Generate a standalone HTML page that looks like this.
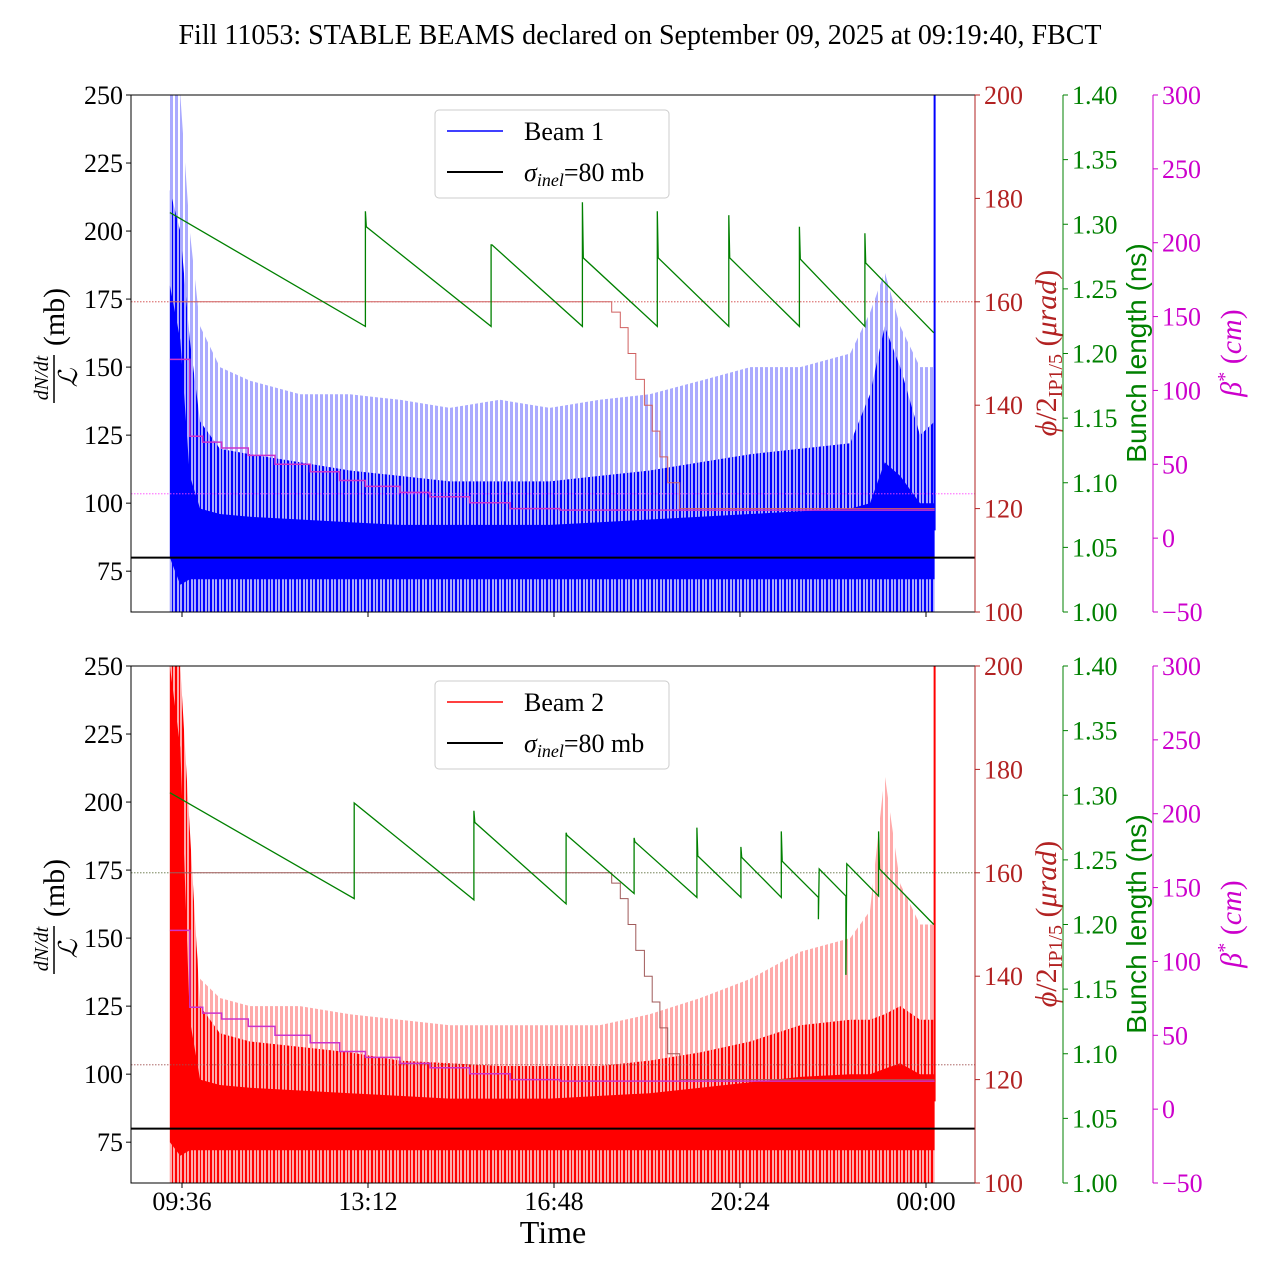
<!DOCTYPE html>
<html><head><meta charset="utf-8"><style>
html,body{margin:0;padding:0;background:#fff;}
svg{display:block;font-family:"Liberation Serif","DejaVu Serif",serif;}
</style></head><body>
<svg id="chart" width="1280" height="1280" viewBox="0 0 1280 1280" xmlns="http://www.w3.org/2000/svg">
<defs>
<pattern id="stripe1" width="7" height="10" patternUnits="userSpaceOnUse"><rect width="7" height="10" fill="#aaaaff"/><rect x="0" width="2" height="10" fill="#0000ff"/><rect x="4" width="1" height="10" fill="#0000ff"/></pattern>
<pattern id="stripe2" width="7" height="10" patternUnits="userSpaceOnUse"><rect width="7" height="10" fill="#ffaaaa"/><rect x="0" width="2" height="10" fill="#ff0000"/><rect x="4" width="1" height="10" fill="#ff0000"/></pattern>
<pattern id="lstripe1" width="5" height="10" patternUnits="userSpaceOnUse"><rect width="5" height="10" fill="#ffffff"/><rect x="0" width="3" height="10" fill="#aaaaff"/></pattern>
<pattern id="lstripe2" width="5" height="10" patternUnits="userSpaceOnUse"><rect width="5" height="10" fill="#ffffff"/><rect x="0" width="3" height="10" fill="#ffaaaa"/></pattern>
</defs>
<text x="640" y="44" font-size="28" text-anchor="middle">Fill 11053: STABLE BEAMS declared on September 09, 2025 at 09:19:40, FBCT</text>
</svg>
<script>
// ---------- data ----------
const xTickMinutes = [576, 792, 1008, 1224, 1440];
const xTickLabels = ["09:36", "13:12", "16:48", "20:24", "00:00"];
const leftTicks = [75, 100, 125, 150, 175, 200, 225, 250];
const phiTicks = [100, 120, 140, 160, 180, 200];
const bunchTicks = [1.00, 1.05, 1.10, 1.15, 1.20, 1.25, 1.30, 1.35, 1.40];
const betaTicks = [-50, 0, 50, 100, 150, 200, 250, 300];

// beam envelope sample times (minutes since midnight)
const envT = [562, 574, 585, 597, 620, 655, 713, 771, 829, 887, 945, 1003, 1061, 1119, 1178, 1236, 1294, 1352, 1375, 1392, 1410, 1433, 1450];
const b1LightHi = [250, 250, 200, 165, 150, 145, 140, 140, 138, 135, 138, 135, 138, 140, 145, 150, 150, 155, 170, 185, 165, 150, 150];
const b1DarkHi  = [215, 200, 160, 130, 120, 118, 115, 112, 110, 108, 108, 108, 110, 112, 115, 118, 120, 122, 140, 165, 150, 125, 130];
const b1CoreHi  = [180, 160, 110, 98, 96, 95, 94, 93, 92, 92, 92, 92, 93, 94, 95, 96, 97, 98, 100, 115, 110, 100, 100];
const b1CoreLo  = [80, 70, 72, 72, 72, 72, 72, 72, 72, 72, 72, 72, 72, 72, 72, 72, 72, 72, 72, 72, 72, 72, 72];
const b2LightHi = [250, 250, 170, 135, 128, 125, 125, 122, 120, 118, 118, 118, 118, 122, 128, 135, 145, 150, 160, 210, 170, 155, 155];
const b2DarkHi  = [250, 250, 190, 125, 115, 112, 110, 108, 105, 104, 103, 103, 103, 105, 108, 112, 118, 120, 120, 122, 125, 120, 120];
const b2CoreHi  = [250, 220, 120, 98, 96, 95, 94, 93, 92, 91, 91, 91, 92, 93, 95, 97, 99, 100, 100, 102, 104, 100, 100];
const b2CoreLo  = [75, 70, 72, 72, 72, 72, 72, 72, 72, 72, 72, 72, 72, 72, 72, 72, 72, 72, 72, 72, 72, 72, 72];

// bunch length (ns)
const g1T = [562, 789, 789, 790, 935, 935, 936, 1041, 1041, 1042, 1128, 1128, 1129, 1211, 1211, 1212, 1293, 1293, 1294, 1369, 1369, 1370, 1449];
const g1V = [1.309, 1.221, 1.310, 1.298, 1.221, 1.284, 1.284, 1.221, 1.317, 1.274, 1.221, 1.310, 1.274, 1.221, 1.307, 1.274, 1.221, 1.298, 1.273, 1.221, 1.293, 1.270, 1.216];
const g2T = [562, 776, 776, 915, 915, 916, 1022, 1022, 1023, 1101, 1101, 1102, 1174, 1174, 1175, 1225, 1225, 1226, 1272, 1272, 1273, 1315, 1315, 1316, 1347, 1347, 1348, 1385, 1385, 1386, 1449];
const g2V = [1.302, 1.220, 1.294, 1.219, 1.288, 1.279, 1.216, 1.271, 1.269, 1.224, 1.267, 1.264, 1.221, 1.275, 1.253, 1.221, 1.260, 1.252, 1.221, 1.272, 1.249, 1.221, 1.204, 1.243, 1.222, 1.161, 1.247, 1.222, 1.272, 1.243, 1.200];

// beta* steps (cm)
const betaT = [562, 585, 600, 622, 653, 684, 725, 759, 789, 829, 864, 910, 957, 1015];
const betaV = [121, 69, 65, 61, 56, 50, 45, 39, 35, 31, 28, 24, 20, 19];
// crossing angle steps (urad)
const phiT = [562, 1075, 1085, 1094, 1103, 1113, 1122, 1131, 1140, 1154];
const phiV = [160, 158, 155, 150, 145, 140, 135, 130, 125, 120];
const tEnd = 1450;
const sigmaInel = 80;

// ---------- geometry ----------
const NS = "http://www.w3.org/2000/svg";
const svg = document.getElementById('chart');
const X0 = 131, X1 = 975;
function xS(m) { return 182 + (m - 576) * (186 / 216); }
function mk(tag, attrs, parent) {
  const e = document.createElementNS(NS, tag);
  for (const k in attrs) e.setAttribute(k, attrs[k]);
  (parent || svg).appendChild(e);
  return e;
}
function fmt(v, d) { return v < 0 ? '\u2212' + Math.abs(v).toFixed(d) : v.toFixed(d); }

function panel(top, beam) {
  const H = 517, bot = top + H;
  const yL = v => top + (250 - v) / 190 * H;
  const yP = v => top + (200 - v) / 100 * H;
  const yG = v => top + (1.40 - v) / 0.40 * H;
  const yB = v => top + (300 - v) / 350 * H;
  const isB1 = beam === 1;
  const dark = isB1 ? '#0000ff' : '#ff0000';
  const g = mk('g', {});
  
  
  const clipId = 'clip' + beam;
  const cp = mk('clipPath', { id: clipId }, g);
  mk('rect', { x: X0, y: top, width: X1 - X0, height: H }, cp);
  const plot = mk('g', { 'clip-path': 'url(#' + clipId + ')' }, g);

  const lh = isB1 ? b1LightHi : b2LightHi, dh = isB1 ? b1DarkHi : b2DarkHi;
  const ch = isB1 ? b1CoreHi : b2CoreHi, cl = isB1 ? b1CoreLo : b2CoreLo;
  function band(hi, lo, fill, name) {
    let pts = envT.map((t, i) => xS(t).toFixed(1) + ',' + yL(hi[i]).toFixed(1));
    const loPts = envT.map((t, i) => xS(t).toFixed(1) + ',' + yL(lo === null ? 55 : lo[i]).toFixed(1)).reverse();
    const p = mk('polygon', { points: pts.concat(loPts).join(' '), fill: fill }, plot);
    
    
  }
  band(lh, null, 'url(#lstripe' + beam + ')', 'beam-spread-band');
  band(dh, null, 'url(#stripe' + beam + ')', 'beam-upper-band');
  band(ch, cl, dark, 'beam-core-band');
  const sp = mk('line', { x1: xS(tEnd), x2: xS(tEnd), y1: yL(90), y2: top, stroke: dark, 'stroke-width': 2 }, plot);
  
  

  const rd = mk('line', { x1: X0, x2: X1, y1: yP(160), y2: yP(160), stroke: isB1 ? '#d04040' : '#607040', 'stroke-width': 0.8, 'stroke-dasharray': '1.5,1.5' }, plot);
  
  
  const md = mk('line', { x1: X0, x2: X1, y1: yB(30), y2: yB(30), stroke: isB1 ? '#ff44ff' : '#a05050', 'stroke-width': 0.8, 'stroke-dasharray': '1.5,1.5' }, plot);
  
  

  let d = '';
  phiT.forEach((t, i) => {
    const tn = i + 1 < phiT.length ? phiT[i + 1] : tEnd;
    d += (i === 0 ? 'M' : 'L') + xS(t).toFixed(1) + ',' + yP(phiV[i]).toFixed(1) + 'L' + xS(tn).toFixed(1) + ',' + yP(phiV[i]).toFixed(1);
  });
  const pl = mk('path', { d: d, fill: 'none', stroke: isB1 ? '#d06060' : '#a05a5a', 'stroke-width': 1 }, plot);
  
  

  d = '';
  betaT.forEach((t, i) => {
    const tn = i + 1 < betaT.length ? betaT[i + 1] : tEnd;
    d += (i === 0 ? 'M' : 'L') + xS(t).toFixed(1) + ',' + yB(betaV[i]).toFixed(1) + 'L' + xS(tn).toFixed(1) + ',' + yB(betaV[i]).toFixed(1);
  });
  const bl = mk('path', { d: d, fill: 'none', stroke: '#cc33cc', 'stroke-width': 1.5 }, plot);
  
  

  const sl = mk('line', { x1: X0, x2: X1, y1: yL(sigmaInel), y2: yL(sigmaInel), stroke: '#000', 'stroke-width': 2 }, plot);
  
  

  const gt = isB1 ? g1T : g2T, gv = isB1 ? g1V : g2V;
  const gp = mk('polyline', { points: gt.map((t, i) => xS(t).toFixed(1) + ',' + yG(gv[i]).toFixed(1)).join(' '), fill: 'none', stroke: '#008000', 'stroke-width': 1.3 }, plot);
  
  

  const fr = mk('rect', { x: X0, y: top, width: X1 - X0, height: H, fill: 'none', stroke: '#000', 'stroke-width': 1 }, g);
  
  
  mk('line', { x1: X1, x2: X1, y1: top, y2: bot, stroke: '#b22222', 'stroke-width': 1 }, g);

  leftTicks.forEach(v => {
    mk('line', { x1: X0 - 5, x2: X0, y1: yL(v), y2: yL(v), stroke: '#000' }, g);
    const t = mk('text', { x: X0 - 8, y: yL(v) + 9, 'font-size': 26, 'text-anchor': 'end' }, g);
    t.textContent = v;
    
    
  });
  xTickMinutes.forEach((m, i) => {
    mk('line', { x1: xS(m), x2: xS(m), y1: bot, y2: bot + 5, stroke: '#000' }, g);
    if (!isB1) {
      const t = mk('text', { x: xS(m), y: bot + 27, 'font-size': 26, 'text-anchor': 'middle' }, g);
      t.textContent = xTickLabels[i];
      
      
    }
  });
  function rAxis(x, ticks, yf, color, dec, name) {
    mk('line', { x1: x, x2: x, y1: top, y2: bot, stroke: color, 'stroke-width': 1 }, g);
    ticks.forEach(v => {
      mk('line', { x1: x, x2: x + 5, y1: yf(v), y2: yf(v), stroke: color }, g);
      const t = mk('text', { x: x + 9, y: yf(v) + 9, 'font-size': 26, fill: color }, g);
      t.textContent = fmt(v, dec);
      
      
    });
  }
  rAxis(975, phiTicks, yP, '#b22222', 0, 'phi-tick-label');
  rAxis(1063, bunchTicks, yG, '#008000', 2, 'bunch-tick-label');
  rAxis(1153, betaTicks, yB, '#cc00cc', 0, 'beta-tick-label');

  const cy = top + 258;
  const yl = mk('g', { transform: 'translate(60,' + cy + ') rotate(-90)' }, g);
  
  
  const num = mk('text', { x: -25, y: -12, 'font-size': 20, 'font-style': 'italic', 'text-anchor': 'middle' }, yl);
  num.textContent = 'dN/dt';
  mk('line', { x1: -50, x2: -2, y1: -6, y2: -6, stroke: '#000', 'stroke-width': 1.5 }, yl);
  const den = mk('text', { x: -25, y: 17, 'font-size': 26, 'font-style': 'italic', 'text-anchor': 'middle' }, yl);
  den.textContent = '\u2112';
  const mb = mk('text', { x: 36, y: 4, 'font-size': 30, 'text-anchor': 'middle' }, yl);
  mb.textContent = '(mb)';

  const pt = mk('text', { transform: 'translate(1056,' + cy + ') rotate(-90)', 'font-size': 30, fill: '#b22222', 'text-anchor': 'middle' }, g);
  
  
  pt.innerHTML = '<tspan font-style="italic">ϕ</tspan>/2<tspan font-size="20" dy="6">IP1/5</tspan><tspan dy="-6"> (</tspan><tspan font-style="italic">μrad</tspan>)';
  const bt = mk('text', { transform: 'translate(1146,' + cy + ') rotate(-90)', 'font-size': 28, fill: '#008000', 'text-anchor': 'middle', 'font-family': '"Liberation Sans", sans-serif' }, g);
  bt.textContent = 'Bunch length (ns)';
  
  
  const be = mk('text', { transform: 'translate(1241,' + cy + ') rotate(-90)', 'font-size': 30, fill: '#cc00cc', 'text-anchor': 'middle' }, g);
  
  
  be.innerHTML = '<tspan font-style="italic">β</tspan><tspan font-size="20" dy="-10">*</tspan><tspan dy="10"> (</tspan><tspan font-style="italic">cm</tspan>)';

  const lg = mk('g', {}, g);
  
  
  mk('rect', { x: 435, y: top + 15, width: 234, height: 88, rx: 4, fill: '#fff', 'fill-opacity': 0.8, stroke: '#ccc' }, lg);
  mk('line', { x1: 447, x2: 503, y1: top + 36, y2: top + 36, stroke: dark, 'stroke-width': 1.5 }, lg);
  const l1 = mk('text', { x: 524, y: top + 45, 'font-size': 26 }, lg);
  l1.textContent = isB1 ? 'Beam 1' : 'Beam 2';
  
  
  mk('line', { x1: 447, x2: 503, y1: top + 77, y2: top + 77, stroke: '#000', 'stroke-width': 2 }, lg);
  const l2 = mk('text', { x: 524, y: top + 86, 'font-size': 26 }, lg);
  l2.innerHTML = '<tspan font-style="italic">σ</tspan><tspan font-size="18" dy="5" font-style="italic">inel</tspan><tspan dy="-5">=80 mb</tspan>';
  
  
}
panel(95, 1);
panel(666, 2);
const xt = mk('text', { x: 553, y: 1243, 'font-size': 32, 'text-anchor': 'middle' });
xt.textContent = 'Time';


</script>
</body></html>
